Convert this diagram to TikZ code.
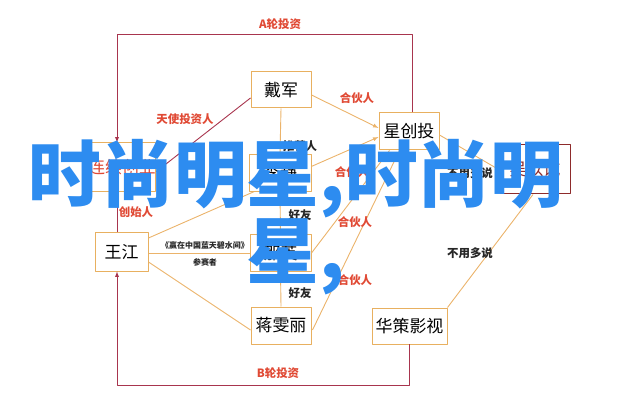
\documentclass[tikz,border=0pt]{standalone}
\usepackage{fontspec}
\setmainfont{Noto Sans CJK SC}
\definecolor{boxorange}{HTML}{E8B060}
\definecolor{lineorange}{HTML}{EBB36A}
\definecolor{investred}{HTML}{A8354E}
\definecolor{labelred}{HTML}{E04A35}
\definecolor{markblue}{HTML}{2D8CF0}
\definecolor{vcred}{HTML}{8E2B2B}
\begin{document}
\begin{tikzpicture}[>=latex,line join=bevel,
    person/.style={draw=boxorange,line width=1pt,fill=white,rectangle,inner sep=0pt,
      minimum width=60bp,minimum height=37bp,font=\fontsize{17}{17}\selectfont},
    tie/.style={draw=lineorange,line width=0.9pt},
    invest/.style={draw=investred,line width=0.9pt},
    redlab/.style={text=labelred,font=\bfseries\fontsize{11.5}{12}\selectfont},
    blacklab/.style={text=black!85,font=\bfseries\fontsize{11.5}{12}\selectfont},
    tinylab/.style={text=black!85,font=\bfseries\fontsize{8}{8}\selectfont},
    ]
    \useasboundingbox (0bp,0bp) rectangle (640bp,411bp);
    %%
    \node (xing) at (409.0bp,279.5bp) [person] {星创投};
    \node (wang) at (121.5bp,159.0bp) [person,minimum width=53bp,minimum height=38bp] {王江};
    \draw [tie,->] ([yshift=14bp]wang.east) -- ([yshift=-5.5bp]xing.west);
    \node (dai) at (281.0bp,321.0bp) [person,minimum height=36bp] {戴军};
    \node (lian) at (122.0bp,243.5bp) [person,minimum height=49bp,text=labelred] {连续创业};
    \node (li) at (280.0bp,238.0bp) [person,minimum width=62bp] {李静};
    \node (na) at (280.5bp,158.0bp) [person,minimum width=61bp] {那英};
    \node (jiang) at (281.0bp,85.5bp) [person] {蒋雯丽};
    \node (hua) at (409.5bp,85.0bp) [person,minimum width=75bp,minimum height=36bp] {华策影视};
    \node (wu) at (535.0bp,241.5bp) [person,draw=vcred,minimum width=70bp,minimum height=49bp,text=vcred] {吴以诚};
    \coordinate (atl) at (117.0bp,377.0bp);
    \coordinate (abl) at (117.0bp,26.0bp);
    %
    \draw [invest,->] ([xshift=3bp]xing.north) |- (atl) -- (atl |- lian.north);
    \draw [invest,->] (hua.south) |- (abl) -- (abl |- wang.south);
    \draw [invest] ([yshift=-8bp]dai.west) -- ([yshift=-4bp]lian.east);
    \draw [invest] (lian.south -| atl) -- (wang.north -| atl);
    \draw [tie,->] ([yshift=-5bp]dai.east) -- ([yshift=3.5bp]xing.west);
    \draw [tie] (na.east) -- ([xshift=11bp]xing.south west);
    \draw [tie] ([xshift=1bp,yshift=-4.5bp]jiang.east) -- ([xshift=21bp]xing.south west);
    \draw [tie] (dai.south) -- (li.north);
    \draw [tie] (li.south) -- (na.north);
    \draw [tie] (na.south) -- (jiang.north);
    \draw [tie] (wang.east |- na.east) -- (na.west);
    \draw [tie] ([yshift=-10bp]wang.east) -- ([yshift=-4.5bp]jiang.west);
    \draw [tie] ([yshift=-3.5bp]xing.east) -- ([yshift=-0.5bp]wu.west);
    \draw [tie] ([xshift=-2bp]wu.south) -- (hua.north east);
    %
    \node (lblA) at (280.0bp,387.0bp) [redlab] {A轮投资};
    \node (lblB) at (278.0bp,38.0bp) [redlab] {B轮投资};
    \node (lblangel) at (185.0bp,292.0bp) [redlab] {天使投资人};
    \node (lblfound) at (136.0bp,199.0bp) [redlab] {创始人};
    \node (lblpart1) at (357.0bp,313.0bp) [redlab] {合伙人};
    \node (lblpart2) at (352.0bp,239.0bp) [redlab] {合伙人};
    \node (lblpart3) at (355.0bp,189.0bp) [redlab] {合伙人};
    \node (lblpart4) at (355.0bp,131.0bp) [redlab] {合伙人};
    \node (lblrec) at (300.0bp,265.0bp) [blacklab] {推荐人};
    \node (lblfr1) at (300.0bp,196.0bp) [blacklab] {好友};
    \node (lblfr2) at (300.0bp,118.0bp) [blacklab] {好友};
    \node (lblshow) at (205.0bp,166.0bp) [tinylab] {《赢在中国蓝天碧水间》};
    \node (lblplayer) at (205.0bp,149.0bp) [tinylab] {参赛者};
    \node (lblsay1) at (470.0bp,238.0bp) [blacklab] {不用多说};
    \node (lblsay2) at (470.0bp,158.0bp) [blacklab] {不用多说};
    %
    \node (wmark) at (296.0bp,194.0bp) [align=center,text=markblue,inner sep=0pt,
      font=\bfseries\fontsize{73}{73}\selectfont] {时尚明星,时尚明\\星,};
    %
\end{tikzpicture}
\end{document}
